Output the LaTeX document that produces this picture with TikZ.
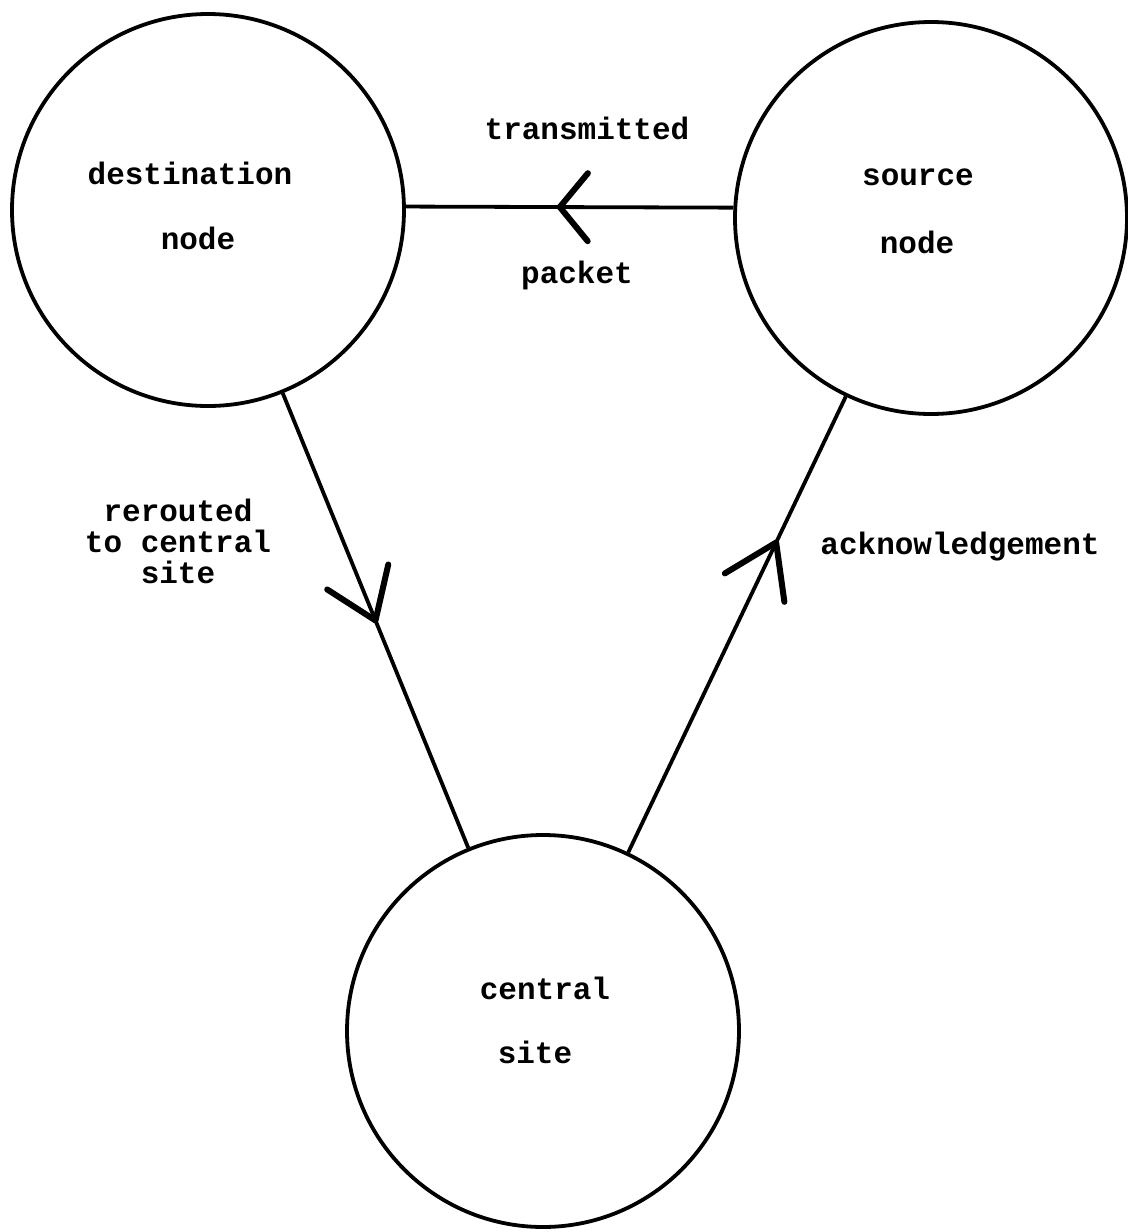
\documentclass[tikz,border=0pt]{standalone}
\usepackage{fontspec}
\setmonofont{Liberation Mono}
\usetikzlibrary{decorations.markings}
\begin{document}
\begin{tikzpicture}[x=0.5pt, y=-0.5pt,
  station/.style={circle, draw, line width=1.9pt, minimum size=196pt, inner sep=0pt},
  txt/.style={font=\ttfamily\bfseries\fontsize{15.5}{15.5}\selectfont, inner sep=0pt, align=center},
  link/.style={draw, line width=1.9pt},
  chevarm/.style={line width=3pt, line cap=round, line join=round},
  chevron/.style n args={3}{postaction={decorate},
    decoration={markings, mark=at position #1 with {
      \draw[chevarm] (-#2,#3) -- (0,0) -- (-#2,-#3);}}}
]
\useasboundingbox (0,0) rectangle (1128,1232);

% the three stations
\node[station] (dest) at (208,210) {};
\node[station] (src) at (931,218) {};
\node[station] (central) at (543,1031) {};

% station names
\node[txt] (destA) at (190,173) {destination};
\node[txt] (destB) at (198,238) {node};
\node[txt] (srcA) at (918,177) {source};
\node[txt] (srcB) at (917,242) {node};
\node[txt] (centA) at (545,988) {central};
\node[txt] (centB) at (535,1052) {site};

% links with their direction marks
\draw[link, chevron={0.53}{28}{34}] (src.177) -- (dest.1.5);
\draw[link, chevron={0.50}{47}{33}] (dest) -- (central);
\draw[link, chevron={0.68}{50}{33}] (central) -- (src);

% link labels
\node[txt] (lblTx) at (587,128) {transmitted};
\node[txt] (lblPk) at (577,275) {packet};
\node[txt] (lblRr) at (178,541) {rerouted\\to central\\site};
\node[txt] (lblAck) at (960,547) {acknowledgement};
\end{tikzpicture}
\end{document}
